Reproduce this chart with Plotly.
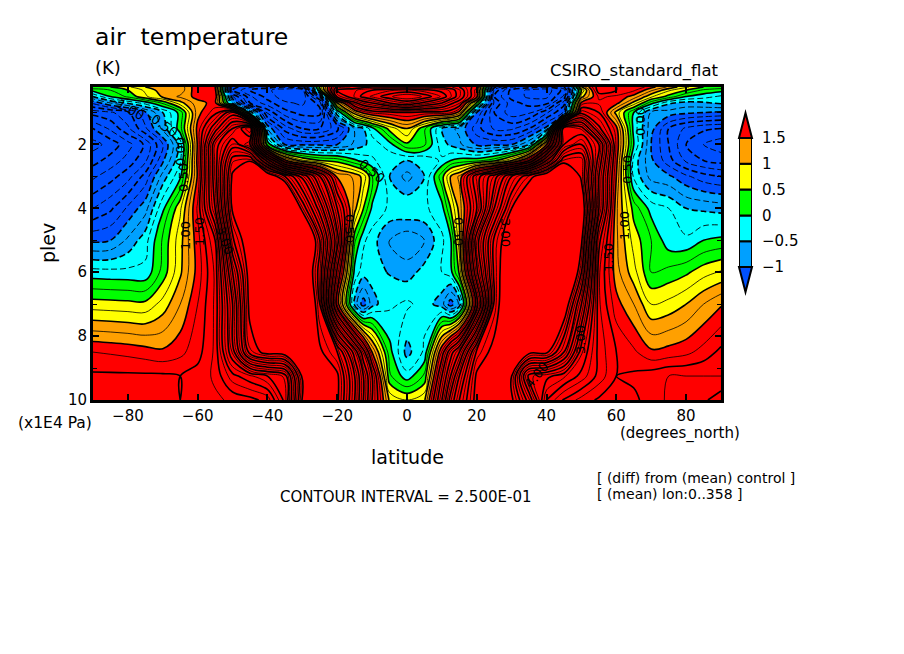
import plotly.graph_objects as go

# latitude columns (degrees_north) and pressure levels (x1E4 Pa)
lat = [-90, -85, -80, -75, -70, -65, -60, -55, -50, -45,
       -40, -35, -30, -25, -20, -15, -12.5, -10, -5, 0,
       5, 10, 12.5, 15, 20, 25, 30, 35, 40, 45,
       50, 55, 60, 65, 70, 75, 80, 85, 90]
plev = [10, 9.25, 8.5, 7, 6, 5, 4, 3, 2.5, 2, 1.5, 1, 0.7, 0.5, 0.3, 0.2]

# values, one list per level
t_1000 = [2.2, 2.2, 2.2, 2.2, 2.15, 2.0, 2.1, 2.2, 2.3, 2.4,
          2.6, 3.6, 6.05, 6.5, 6.1, 4.5, 3.5, 2.5, 0.95, 0.75,
          0.95, 3.0, 4.2, 5.0, 6.2, 6.5, 6.1, 4.8, 3.0, 2.45,
          2.15, 1.95, 1.85, 1.95, 2.1, 2.3, 2.35, 2.45, 2.65]
t_925 = [2.05, 2.05, 2.05, 2.05, 2.05, 2.0, 2.1, 2.3, 2.9, 3.2,
         3.5, 3.8, 6.1, 6.5, 6.1, 4.5, 3.5, 2.5, 0.3, -0.15,
         0.3, 2.5, 3.5, 4.5, 6.1, 6.5, 6.0, 3.8, 3.6, 3.3,
         2.9, 2.4, 2.0, 2.05, 2.15, 2.25, 2.25, 2.25, 2.25]
t_850 = [1.75, 1.72, 1.68, 1.62, 1.55, 1.68, 1.9, 2.3, 3.8, 5.7,
         6.2, 6.3, 6.5, 6.1, 5.5, 3.8, 2.7, 1.5, 0.1, -0.6,
         -0.2, 1.8, 2.8, 3.5, 5.6, 6.2, 6.5, 6.15, 6.1, 5.0,
         3.3, 2.4, 2.0, 1.8, 1.55, 1.6, 1.68, 1.85, 2.07]
t_700 = [0.62, 0.6, 0.58, 0.57, 0.85, 1.25, 1.75, 2.3, 4.0, 6.2,
         7.0, 7.5, 7.5, 5.5, 1.7, -0.6, -1.15, -0.6, -0.3, -0.2,
         -0.35, -0.65, -1.15, -0.7, 2.2, 5.6, 7.0, 7.8, 8.0, 6.5,
         4.5, 2.3, 1.6, 1.25, 0.75, 0.83, 1.0, 1.25, 1.47]
t_600 = [-0.15, -0.17, -0.18, -0.19, 0.35, 0.95, 1.6, 2.3, 4.5, 6.3,
         7.5, 8.0, 7.0, 5.3, 2.4, -0.1, -0.38, -0.4, -0.52, -0.62,
         -0.4, -0.25, -0.1, 0.55, 3.4, 5.6, 6.8, 7.6, 8.2, 7.8,
         5.5, 2.3, 1.35, 0.85, 0.25, 0.33, 0.45, 0.65, 0.78]
t_500 = [-1.05, -1.0, -0.7, -0.35, 0.3, 0.9, 1.65, 2.5, 5.4, 6.5,
         7.7, 8.2, 7.5, 5.5, 3.2, 0.3, -0.2, -0.38, -0.78, -0.95,
         -0.75, -0.3, -0.05, 0.9, 3.8, 5.6, 6.5, 7.5, 8.2, 8.0,
         6.1, 2.6, 1.3, 0.65, 0.25, -0.15, -0.2, 0.0, 0.07]
t_400 = [-1.75, -1.55, -1.2, -0.85, -0.05, 0.7, 1.8, 3.5, 6.1, 7.0,
         8.0, 8.5, 5.8, 4.3, 2.5, 1.1, 0.5, -0.05, -0.3, -0.25,
         -0.3, -0.1, 0.5, 1.1, 2.5, 4.5, 6.0, 7.0, 8.0, 8.0,
         6.5, 3.5, 1.3, 0.4, -0.1, -0.25, -0.5, -0.55, -0.6]
t_300 = [-2.3, -2.1, -1.85, -1.4, -0.65, -0.05, 1.55, 3.8, 6.1, 7.0,
         6.6, 5.5, 4.4, 3.0, 1.45, 1.2, 0.9, 0.3, -0.5, -0.85,
         -0.5, 0.4, 1.0, 1.3, 2.8, 3.8, 5.0, 5.8, 6.5, 7.0,
         5.9, 3.5, 1.5, -0.3, -0.85, -0.95, -1.2, -1.4, -1.5]
t_250 = [-2.6, -2.4, -2.15, -1.8, -1.05, -0.3, 1.6, 3.8, 5.7, 5.95,
         3.8, 1.6, 0.8, 0.5, 0.4, 0.05, -0.1, -0.2, -0.45, -0.5,
         -0.45, -0.2, 0.0, 0.1, 0.15, 0.4, 1.0, 2.0, 4.0, 5.8,
         5.9, 3.8, 1.6, -0.35, -0.95, -1.4, -1.8, -2.0, -2.1]
t_200 = [-2.85, -2.65, -2.35, -1.95, -1.25, -0.4, 1.55, 3.8, 4.8, 4.0,
         0.2, -1.0, -1.05, -1.05, -1.0, -0.7, -0.55, -0.4, -0.1, 0.45,
         0.3, -0.4, -0.55, -0.7, -1.05, -1.05, -1.0, -0.5, 1.5, 4.5,
         5.0, 4.0, 1.7, 0.0, -1.0, -1.5, -2.0, -2.25, -2.4]
t_150 = [-2.5, -2.2, -1.8, -1.3, -0.68, 0.15, 1.6, 2.8, 4.0, 5.0,
         -0.8, -1.6, -2.0, -2.0, -1.6, -0.7, -0.5, -0.1, 0.6, 1.0,
         0.3, -0.5, -0.7, -0.8, -1.4, -1.8, -1.8, -1.5, -0.9, 4.5,
         4.2, 2.6, 1.6, -0.1, -0.9, -1.5, -1.8, -1.95, -2.0]
t_100 = [-1.9, -1.8, -1.55, -1.05, -0.5, 0.1, 1.4, 1.9, 2.8, -0.3,
         -1.8, -2.4, -2.6, -2.6, -0.3, 1.2, 1.6, 1.8, 1.9, 2.0,
         1.9, 1.9, 1.8, 1.4, -1.0, -2.0, -2.4, -2.3, -1.8, -1.2,
         2.4, 2.0, 0.9, 0.0, -0.8, -0.85, -0.95, -1.0, -1.05]
t_70 = [-1.2, -0.75, -0.45, -0.15, 0.3, 0.9, 1.4, 1.6, -0.6, -2.0,
        -2.4, -2.7, -2.8, -2.4, 1.0, 2.4, 2.8, 3.0, 3.5, 3.8,
        3.4, 3.0, 2.6, 2.3, 0.4, -1.8, -2.4, -2.6, -2.6, -1.6,
        1.6, 1.7, 1.6, 0.9, 0.1, -0.45, -0.6, -0.55, -0.45]
t_50 = [-0.5, 0.0, 0.3, 0.7, 1.05, 1.3, 1.6, 1.7, -1.2, -2.2,
        -2.6, -2.9, -3.0, -1.6, 2.6, 3.3, 3.6, 3.8, 4.2, 4.5,
        4.2, 3.7, 3.3, 2.8, 1.6, -2.0, -2.6, -2.8, -2.8, -2.2,
        0.9, 1.8, 1.7, 1.4, 0.8, 0.4, 0.0, -0.15, -0.3]
t_30 = [0.1, 0.25, 0.5, 0.8, 1.15, 1.1, 1.7, 1.6, -2.0, -2.5,
        -2.7, -2.9, -2.8, 0.3, 3.0, 3.2, 3.4, 3.5, 3.7, 3.8,
        3.6, 3.4, 3.2, 2.8, 1.6, -1.8, -2.6, -2.8, -2.9, -2.4,
        0.5, 2.2, 2.0, 1.8, 1.3, 0.8, 0.5, 0.2, 0.1]
t_20 = [0.45, 0.5, 0.7, 1.0, 1.2, 1.1, 1.7, 1.5, -1.9, -2.2,
        -2.4, -2.5, -2.2, 0.6, 2.6, 2.8, 2.9, 3.0, 3.0, 3.0,
        3.0, 2.9, 2.8, 2.5, 1.8, -1.4, -2.2, -2.4, -2.5, -2.0,
        1.0, 2.2, 2.0, 2.0, 1.6, 1.2, 0.8, 0.5, 0.4]

air_temp = [t_1000, t_925, t_850, t_700, t_600, t_500, t_400, t_300,
            t_250, t_200, t_150, t_100, t_70, t_50, t_30, t_20]

band_colors = ['#0050ff', '#00a0ff', '#00ffff', '#00ff00', '#ffff00', '#ffa000', '#ff0000']
key_ticks = [-1, -0.5, 0, 0.5, 1, 1.5]
key_labels = ['\u22121', '\u22120.5', '0', '0.5', '1', '1.5']

FONT = 'DejaVu Sans'
W, H = 904, 654

# step colorscale, one flat piece per band
colorscale = []
for i, c in enumerate(band_colors):
    colorscale.append([i / 7, c])
    colorscale.append([(i + 1) / 7, c])


def px_x(x):
    return x / W


def px_y(y):
    return 1 - y / H


def line_trace(start, end, width, dash):
    return go.Contour(x=lat, y=plev, z=air_temp, showscale=False, hoverinfo='skip',
                      autocontour=False,
                      contours=dict(start=start, end=end, size=0.5, coloring='none'),
                      line=dict(color='black', width=width, dash=dash))


fig = go.Figure()

# filled bands
fig.add_trace(go.Contour(
    x=lat, y=plev, z=air_temp, zmin=-1.5, zmax=2, colorscale=colorscale,
    autocontour=False, hoverinfo='skip', showscale=False,
    contours=dict(start=-1, end=1.5, size=0.5, coloring='fill', showlines=False),
    line=dict(width=0),
))

# contour lines every 0.25, heavy on the multiples of 0.5, dashed below zero
fig.add_trace(line_trace(-3, -0.5, 1.6, '6px,3px'))
fig.add_trace(line_trace(-2.75, -0.25, 0.9, '6px,3px'))
fig.add_trace(line_trace(0, 6, 1.6, 'solid'))
fig.add_trace(line_trace(0.25, 5.75, 0.8, 'solid'))

# color key: one stacked block per closed band
fig.add_trace(go.Bar(
    x=[0] * 5, y=[0.5] * 5, base=key_ticks[:-1], width=1, xaxis='x2', yaxis='y2',
    hoverinfo='skip', marker=dict(color=band_colors[1:6], line=dict(color='black', width=2)),
))

tick_font = dict(family=FONT, size=15, color='black')
axis_style = dict(showgrid=False, zeroline=False, showline=True, linecolor='black', linewidth=3,
                  mirror='ticks', ticks='inside', ticklen=6, tickwidth=2, tickcolor='black',
                  tickfont=tick_font)

fig.update_layout(
    xaxis=dict(domain=[px_x(93), px_x(721)], range=[-90, 90],
               tickvals=[-80, -60, -40, -20, 0, 20, 40, 60, 80],
               ticktext=['\u221280', '\u221260', '\u221240', '\u221220', '0', '20', '40', '60', '80'],
               **axis_style),
    yaxis=dict(domain=[px_y(400), px_y(87)], range=[10, 0.2], tickvals=[2, 4, 6, 8, 10],
               minor=dict(dtick=1, ticks='inside', ticklen=4, tickwidth=1, tickcolor='black', showgrid=False),
               **axis_style),
    xaxis2=dict(domain=[px_x(739), px_x(752)], range=[-0.5, 0.5], anchor='y2', visible=False),
    yaxis2=dict(domain=[px_y(267), px_y(138)], range=[-1, 1.5], anchor='x2', side='right',
                tickvals=key_ticks, ticktext=key_labels, showgrid=False, zeroline=False,
                ticks='', ticklabelstandoff=9, tickfont=tick_font),
)

texts = [
    ('air  temperature', 93, 37, 23.5, 'left', 0),
    ('(K)', 93, 67, 18, 'left', 0),
    ('CSIRO_standard_flat', 721, 71, 16.5, 'right', 0),
    ('(x1E4 Pa)', 16, 423, 15.5, 'left', 0),
    ('(degrees_north)', 618, 433, 15, 'left', 0),
    ('latitude', 407, 457, 19, 'center', 0),
    ('plev', 48, 243, 19, 'center', -90),
    ('CONTOUR INTERVAL = 2.500E-01', 405, 497, 15, 'center', 0),
    ('[ (diff) from (mean) control ]', 595, 478, 14, 'left', 0),
    ('[ (mean) lon:0..358 ]', 595, 494, 14, 'left', 0),
]
# a few of the contour labels that sit on the lines
line_labels = [
    ('-1.00', 129, 108, 30), ('-0.50', 163, 124, 35), ('0.00', 181, 152, -90),
    ('0.50', 183, 178, -90), ('1.00', 185, 236, -90), ('1.50', 200, 232, -90),
    ('3.00', 225, 240, 70), ('0.50', 350, 228, 90), ('-0.50', 370, 170, 40),
    ('0.50', 458, 232, 90), ('3.00', 505, 232, 90), ('0.00', 640, 122, -90),
    ('0.50', 628, 170, -90), ('1.00', 624, 226, -90), ('1.50', 608, 258, -90),
    ('3.00', 581, 340, -90), ('4.00', 536, 375, -50),
]

annotations = []
for text, x, y, size, anchor, angle in texts:
    annotations.append(dict(text=text, x=px_x(x), y=px_y(y), xref='paper', yref='paper',
                            showarrow=False, xanchor=anchor, yanchor='middle', textangle=angle,
                            font=dict(family=FONT, size=size, color='black')))
for text, x, y, angle in line_labels:
    annotations.append(dict(text=text, x=px_x(x), y=px_y(y), xref='paper', yref='paper',
                            showarrow=False, xanchor='center', yanchor='middle', textangle=angle,
                            font=dict(family=FONT, size=13, color='black')))

# pointed ends of the color key
shapes = [
    dict(type='path', xref='paper', yref='paper',
         path=f'M {px_x(739)} {px_y(138)} L {px_x(745.5)} {px_y(113)} L {px_x(752)} {px_y(138)} Z',
         fillcolor='#ff0000', line=dict(color='black', width=2)),
    dict(type='path', xref='paper', yref='paper',
         path=f'M {px_x(739)} {px_y(267)} L {px_x(745.5)} {px_y(292)} L {px_x(752)} {px_y(267)} Z',
         fillcolor='#0050ff', line=dict(color='black', width=2)),
]

fig.update_layout(width=W, height=H, autosize=False, paper_bgcolor='white', plot_bgcolor='white',
                  margin=dict(l=0, r=0, t=0, b=0, autoexpand=False), showlegend=False, barmode='overlay',
                  annotations=annotations, shapes=shapes)

fig.write_html("out.html", config=dict(displayModeBar=False),
               post_script="document.body.style.margin='0';")
